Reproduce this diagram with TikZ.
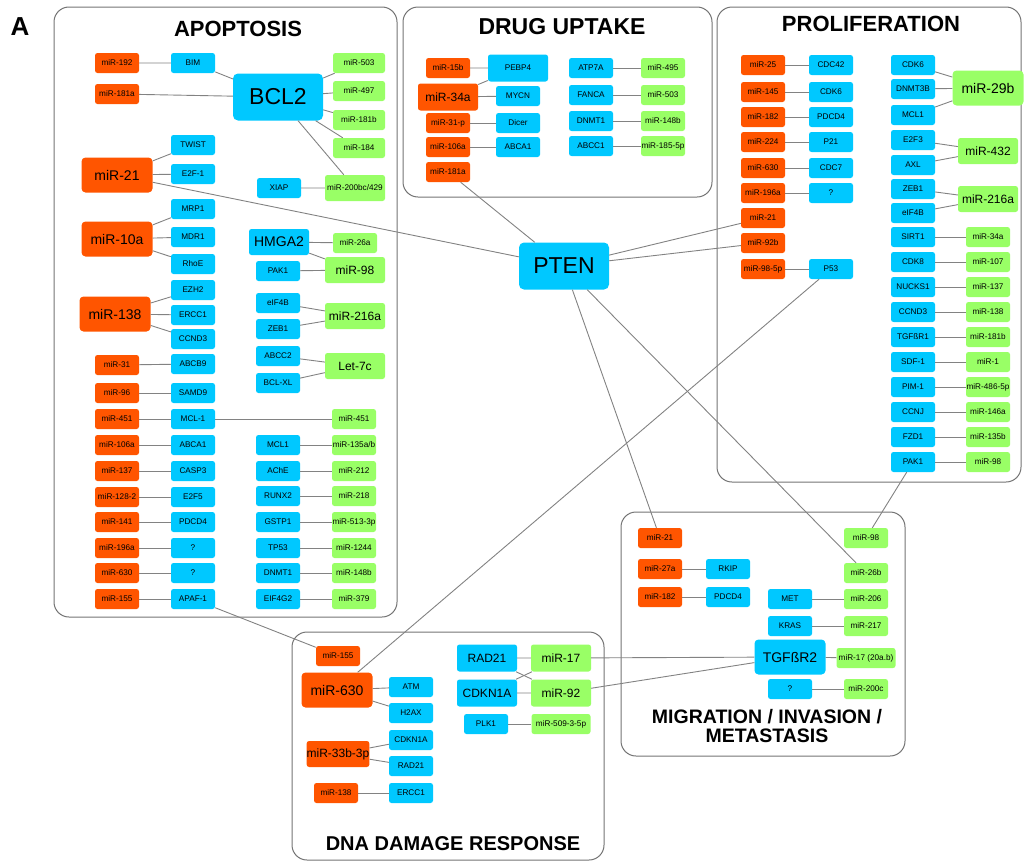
\documentclass[tikz,border=0pt]{standalone}
\usepackage{fontspec}
\setmainfont{Liberation Sans}
\definecolor{mirorange}{RGB}{255,85,0}
\definecolor{genecyan}{RGB}{0,200,255}
\definecolor{antigreen}{RGB}{153,255,102}
\definecolor{linkgray}{RGB}{130,130,130}
\definecolor{areagray}{RGB}{115,115,115}
\begin{document}
\begin{tikzpicture}[x=1pt,y=-1pt,
  tag/.style={inner sep=0, rounded corners=2.5, minimum width=44, minimum height=20, font=\fontsize{8.2}{10}\selectfont},
  mir/.style={tag, fill=mirorange},
  gene/.style={tag, fill=genecyan},
  anti/.style={tag, fill=antigreen},
  midbox/.style={minimum width=60, minimum height=26, font=\fontsize{12}{14}\selectfont},
  bigbox/.style={minimum width=71, minimum height=35, rounded corners=4, font=\fontsize{14}{16}\selectfont},
  hubbox/.style={minimum width=90, minimum height=47, rounded corners=5, font=\fontsize{23}{26}\selectfont},
  link/.style={draw=linkgray, line width=0.9},
  area/.style={draw=areagray, line width=1, rounded corners=15},
  title/.style={inner sep=0, font=\bfseries\fontsize{22}{24}\selectfont}]
\useasboundingbox (0,0) rectangle (1024,862);

% panel letter
\node[inner sep=0, font=\bfseries\fontsize{26}{28}\selectfont] (panel) at (20,27) {A};

% section frames
\draw[area] (54,7) rectangle (397,617);
\draw[area] (403,7) rectangle (712,197);
\draw[area] (717,7) rectangle (1021,482);
\draw[area] (621,512) rectangle (905,756);
\draw[area] (292,632) rectangle (604,860);

% titles
\node[title] (tapop) at (238,29) {APOPTOSIS};
\node[title, font=\bfseries\fontsize{23}{24}\selectfont] (tdrug) at (562,27) {DRUG UPTAKE};
\node[title] (tprol) at (871,24) {PROLIFERATION};
\node[title, align=center, font=\bfseries\fontsize{19.5}{19}\selectfont] (tmigr) at (767,726) {MIGRATION / INVASION /\\METASTASIS};
\node[title, font=\bfseries\fontsize{20}{22}\selectfont] (tdna) at (453,844) {DNA DAMAGE RESPONSE};

% hub
\node[gene, hubbox] (pten) at (564,266) {PTEN};

% apoptosis
\node[mir] (ap192) at (117,63) {miR-192};
\node[mir] (ap181a) at (117,94) {miR-181a};
\node[mir, bigbox] (ap21) at (117,175) {miR-21};
\node[mir, bigbox] (ap10a) at (117,239) {miR-10a};
\node[mir, bigbox] (ap138) at (115,314) {miR-138};
\node[mir] (ap31) at (117,365) {miR-31};
\node[mir] (ap96) at (117,393) {miR-96};
\node[mir] (ap451) at (117,419) {miR-451};
\node[mir] (ap106a) at (117,445) {miR-106a};
\node[mir] (ap137) at (117,471) {miR-137};
\node[mir] (ap128) at (117,497) {miR-128-2};
\node[mir] (ap141) at (117,522) {miR-141};
\node[mir] (ap196a) at (117,548) {miR-196a};
\node[mir] (ap630) at (117,573) {miR-630};
\node[mir] (ap155) at (117,599) {miR-155};

\node[gene] (apbim) at (193,63) {BIM};
\node[gene] (aptwist) at (193,145) {TWIST};
\node[gene] (ape2f1) at (193,174) {E2F-1};
\node[gene] (apmrp1) at (193,209) {MRP1};
\node[gene] (apmdr1) at (193,237) {MDR1};
\node[gene] (aprhoe) at (193,264) {RhoE};
\node[gene] (apezh2) at (193,290) {EZH2};
\node[gene] (apercc1) at (193,315) {ERCC1};
\node[gene] (apccnd3) at (193,339) {CCND3};
\node[gene] (apabcb9) at (193,364) {ABCB9};
\node[gene] (apsamd9) at (193,393) {SAMD9};
\node[gene] (apmcl) at (193,419) {MCL-1};
\node[gene] (apabca1) at (193,445) {ABCA1};
\node[gene] (apcasp3) at (193,471) {CASP3};
\node[gene] (ape2f5) at (193,497) {E2F5};
\node[gene] (appdcd4) at (193,522) {PDCD4};
\node[gene] (apq1) at (193,548) {?};
\node[gene] (apq2) at (193,573) {?};
\node[gene] (apapaf) at (193,599) {APAF-1};

\node[gene, hubbox] (apbcl2) at (278,97) {BCL2};
\node[anti, minimum width=52] (ap503) at (359,63) {miR-503};
\node[anti, minimum width=52] (ap497) at (359,91) {miR-497};
\node[anti, minimum width=52] (ap181b) at (359,120) {miR-181b};
\node[anti, minimum width=52] (ap184) at (359,148) {miR-184};
\node[gene] (apxiap) at (279,188) {XIAP};
\node[anti, minimum width=60, minimum height=26] (ap200) at (355,188) {miR-200bc/429};

\node[gene, midbox, font=\fontsize{14}{16}\selectfont] (aphmga2) at (279,242) {HMGA2};
\node[anti] (ap26a) at (355,243) {miR-26a};
\node[gene] (appak1) at (278,271) {PAK1};
\node[anti, midbox] (ap98) at (355,270) {miR-98};
\node[gene] (apeif4b) at (278,303) {eIF4B};
\node[gene] (apzeb1) at (278,329) {ZEB1};
\node[anti, midbox] (ap216a) at (355,316) {miR-216a};
\node[gene] (apabcc2) at (278,356) {ABCC2};
\node[gene] (apbclxl) at (278,383) {BCL-XL};
\node[anti, midbox] (aplet7c) at (355,366) {Let-7c};

\node[anti] (ap451g) at (354,419) {miR-451};
\node[gene] (apmcl1) at (278,445) {MCL1};
\node[anti] (ap135) at (354,445) {miR-135a/b};
\node[gene] (apache) at (278,471) {AChE};
\node[anti] (ap212) at (354,471) {miR-212};
\node[gene] (aprunx2) at (278,496) {RUNX2};
\node[anti] (ap218) at (354,496) {miR-218};
\node[gene] (apgstp1) at (278,522) {GSTP1};
\node[anti] (ap513) at (354,522) {miR-513-3p};
\node[gene] (aptp53) at (278,548) {TP53};
\node[anti] (ap1244) at (354,548) {miR-1244};
\node[gene] (apdnmt1) at (278,573) {DNMT1};
\node[anti] (ap148b) at (354,573) {miR-148b};
\node[gene] (apeif4g2) at (278,599) {EIF4G2};
\node[anti] (ap379) at (354,599) {miR-379};

% drug uptake
\node[mir] (du15b) at (448,68) {miR-15b};
\node[gene, minimum width=60, minimum height=27] (dupebp4) at (518,68) {PEBP4};
\node[mir, midbox, minimum height=27] (du34a) at (448,97) {miR-34a};
\node[gene] (dumycn) at (518,96) {MYCN};
\node[mir] (du31p) at (448,123) {miR-31-p};
\node[gene] (dudicer) at (518,123) {Dicer};
\node[mir] (du106a) at (448,147) {miR-106a};
\node[gene] (duabca1) at (518,147) {ABCA1};
\node[mir] (du181a) at (448,172) {miR-181a};
\node[gene] (duatp7a) at (591,68) {ATP7A};
\node[anti] (du495) at (663,68) {miR-495};
\node[gene] (dufanca) at (591,95) {FANCA};
\node[anti] (du503) at (663,95) {miR-503};
\node[gene] (dudnmt1) at (591,121) {DNMT1};
\node[anti] (du148b) at (663,121) {miR-148b};
\node[gene] (duabcc1) at (591,146) {ABCC1};
\node[anti] (du185) at (663,146) {miR-185-5p};

% proliferation
\node[mir] (pr25) at (763,65) {miR-25};
\node[mir] (pr145) at (763,92) {miR-145};
\node[mir] (pr182) at (763,117) {miR-182};
\node[mir] (pr224) at (763,142) {miR-224};
\node[mir] (pr630) at (763,168) {miR-630};
\node[mir] (pr196a) at (763,193) {miR-196a};
\node[mir] (pr21) at (763,218) {miR-21};
\node[mir] (pr92b) at (763,243) {miR-92b};
\node[mir] (pr985p) at (763,269) {miR-98-5p};
\node[gene] (prcdc42) at (831,65) {CDC42};
\node[gene] (prcdk6a) at (831,92) {CDK6};
\node[gene] (prpdcd4) at (831,117) {PDCD4};
\node[gene] (prp21) at (831,142) {P21};
\node[gene] (prcdc7) at (831,168) {CDC7};
\node[gene] (prq) at (831,193) {?};
\node[gene] (prp53) at (831,269) {P53};

\node[gene] (prcdk6) at (913,65) {CDK6};
\node[gene] (prdnmt3b) at (913,89) {DNMT3B};
\node[gene] (prmcl1) at (913,115) {MCL1};
\node[anti, bigbox] (pr29b) at (988,88) {miR-29b};
\node[gene] (pre2f3) at (913,140) {E2F3};
\node[gene] (praxl) at (913,165) {AXL};
\node[anti, midbox] (pr432) at (988,151) {miR-432};
\node[gene] (przeb1) at (913,189) {ZEB1};
\node[gene] (preif4b) at (913,213) {eIF4B};
\node[anti, midbox] (pr216a) at (988,199) {miR-216a};
\node[gene] (prsirt1) at (913,237) {SIRT1};
\node[anti] (pr34a) at (988,237) {miR-34a};
\node[gene] (prcdk8) at (913,262) {CDK8};
\node[anti] (pr107) at (988,262) {miR-107};
\node[gene] (prnucks1) at (913,287) {NUCKS1};
\node[anti] (pr137) at (988,287) {miR-137};
\node[gene] (prccnd3) at (913,312) {CCND3};
\node[anti] (pr138) at (988,312) {miR-138};
\node[gene] (prtgfbr1) at (913,337) {TGFßR1};
\node[anti] (pr181b) at (988,337) {miR-181b};
\node[gene] (prsdf1) at (913,362) {SDF-1};
\node[anti] (pr1) at (988,362) {miR-1};
\node[gene] (prpim1) at (913,387) {PIM-1};
\node[anti] (pr486) at (988,387) {miR-486-5p};
\node[gene] (prccnj) at (913,412) {CCNJ};
\node[anti] (pr146a) at (988,412) {miR-146a};
\node[gene] (prfzd1) at (913,437) {FZD1};
\node[anti] (pr135b) at (988,437) {miR-135b};
\node[gene] (prpak1) at (913,462) {PAK1};
\node[anti] (pr98) at (988,462) {miR-98};

% migration / invasion / metastasis
\node[mir] (mi21) at (660,538) {miR-21};
\node[anti] (mi98) at (866,538) {miR-98};
\node[mir] (mi27a) at (660,569) {miR-27a};
\node[gene] (mirkip) at (728,569) {RKIP};
\node[anti] (mi26b) at (866,573) {miR-26b};
\node[mir] (mi182) at (660,597) {miR-182};
\node[gene] (mipdcd4) at (728,597) {PDCD4};
\node[gene] (mimet) at (790,599) {MET};
\node[anti] (mi206) at (866,599) {miR-206};
\node[gene] (mikras) at (790,626) {KRAS};
\node[anti] (mi217) at (866,626) {miR-217};
\node[gene, bigbox] (mitgfbr2) at (790,657) {TGFßR2};
\node[anti, minimum width=59] (mi17) at (866,658) {miR-17 (20a.b)};
\node[gene] (miq) at (790,689) {?};
\node[anti] (mi200c) at (866,689) {miR-200c};

% dna damage response
\node[mir] (dd155) at (338,656) {miR-155};
\node[mir, bigbox] (dd630) at (337,690) {miR-630};
\node[gene] (ddatm) at (411,687) {ATM};
\node[gene] (ddh2ax) at (411,713) {H2AX};
\node[gene] (ddcdkn1a) at (411,740) {CDKN1A};
\node[gene] (ddrad21) at (411,766) {RAD21};
\node[mir, midbox] (dd33b) at (338,754) {miR-33b-3p};
\node[mir] (dd138) at (336,793) {miR-138};
\node[gene] (ddercc1) at (411,793) {ERCC1};
\node[gene, midbox, minimum height=27] (ddrad21b) at (487,658) {RAD21};
\node[gene, midbox, minimum height=27] (ddcdkn1ab) at (487,693) {CDKN1A};
\node[anti, midbox, minimum height=27] (dd17) at (561,658) {miR-17};
\node[anti, midbox, minimum height=27] (dd92) at (561,693) {miR-92};
\node[gene] (ddplk1) at (486,724) {PLK1};
\node[anti, minimum width=59] (dd509) at (561,724) {miR-509-3-5p};

% apoptosis links
\draw[link] (ap192) -- (apbim) -- (apbcl2);
\draw[link] (ap181a) -- (apbcl2);
\draw[link] (apbcl2) -- (ap503) (apbcl2) -- (ap497) (apbcl2) -- (ap181b) (apbcl2) -- (ap184);
\draw[link] (apbcl2) -- (ap200) (apxiap) -- (ap200);
\draw[link] (ap21) -- (aptwist) (ap21) -- (ape2f1);
\draw[link] (ap10a) -- (apmrp1) (ap10a) -- (apmdr1) (ap10a) -- (aprhoe);
\draw[link] (ap138) -- (apezh2) (ap138) -- (apercc1) (ap138) -- (apccnd3);
\draw[link] (ap31) -- (apabcb9);
\draw[link] (ap96) -- (apsamd9);
\draw[link] (ap451) -- (apmcl) -- (ap451g);
\draw[link] (ap106a) -- (apabca1);
\draw[link] (ap137) -- (apcasp3);
\draw[link] (ap128) -- (ape2f5);
\draw[link] (ap141) -- (appdcd4);
\draw[link] (ap196a) -- (apq1);
\draw[link] (ap630) -- (apq2);
\draw[link] (ap155) -- (apapaf);
\draw[link] (aphmga2) -- (ap26a) (aphmga2) -- (ap98) (appak1) -- (ap98);
\draw[link] (apeif4b) -- (ap216a) (apzeb1) -- (ap216a);
\draw[link] (apabcc2) -- (aplet7c) (apbclxl) -- (aplet7c);
\draw[link] (apmcl1) -- (ap135);
\draw[link] (apache) -- (ap212);
\draw[link] (aprunx2) -- (ap218);
\draw[link] (apgstp1) -- (ap513);
\draw[link] (aptp53) -- (ap1244);
\draw[link] (apdnmt1) -- (ap148b);
\draw[link] (apeif4g2) -- (ap379);

% drug uptake links
\draw[link] (du15b) -- (dupebp4) (du34a) -- (dupebp4) (du34a) -- (dumycn);
\draw[link] (du31p) -- (dudicer);
\draw[link] (du106a) -- (duabca1);
\draw[link] (duatp7a) -- (du495);
\draw[link] (dufanca) -- (du503);
\draw[link] (dudnmt1) -- (du148b);
\draw[link] (duabcc1) -- (du185);

% proliferation links
\draw[link] (pr25) -- (prcdc42);
\draw[link] (pr145) -- (prcdk6a);
\draw[link] (pr182) -- (prpdcd4);
\draw[link] (pr224) -- (prp21);
\draw[link] (pr630) -- (prcdc7);
\draw[link] (pr196a) -- (prq);
\draw[link] (pr985p) -- (prp53);
\draw[link] (prcdk6) -- (pr29b) (prdnmt3b) -- (pr29b) (prmcl1) -- (pr29b);
\draw[link] (pre2f3) -- (pr432) (praxl) -- (pr432);
\draw[link] (przeb1) -- (pr216a) (preif4b) -- (pr216a);
\draw[link] (prsirt1) -- (pr34a);
\draw[link] (prcdk8) -- (pr107);
\draw[link] (prnucks1) -- (pr137);
\draw[link] (prccnd3) -- (pr138);
\draw[link] (prtgfbr1) -- (pr181b);
\draw[link] (prsdf1) -- (pr1);
\draw[link] (prpim1) -- (pr486);
\draw[link] (prccnj) -- (pr146a);
\draw[link] (prfzd1) -- (pr135b);
\draw[link] (prpak1) -- (pr98);

% migration links
\draw[link] (mi27a) -- (mirkip);
\draw[link] (mi182) -- (mipdcd4);
\draw[link] (mimet) -- (mi206);
\draw[link] (mikras) -- (mi217);
\draw[link] (mitgfbr2) -- (mi17);
\draw[link] (miq) -- (mi200c);

% dna damage links
\draw[link] (dd630) -- (ddatm) (dd630) -- (ddh2ax);
\draw[link] (dd33b) -- (ddcdkn1a) (dd33b) -- (ddrad21);
\draw[link] (dd138) -- (ddercc1);
\draw[link] (ddrad21b) -- (dd17) (ddrad21b) -- (dd92);
\draw[link] (ddcdkn1ab) -- (dd17) (ddcdkn1ab) -- (dd92);
\draw[link] (ddplk1) -- (dd509);

% links across sections
\draw[link] (ap21) -- (pten);
\draw[link] (du181a) -- (pten);
\draw[link] (pr21) -- (pten);
\draw[link] (pr92b) -- (pten);
\draw[link] (pten) -- (mi21);
\draw[link] (pten) -- (mi26b);
\draw[link] (prp53) -- (dd630);
\draw[link] (prpak1) -- (mi98);
\draw[link] (apapaf) -- (dd155);
\draw[link] (dd17) -- (mitgfbr2);
\draw[link] (dd92) -- (mitgfbr2);

\end{tikzpicture}
\end{document}
